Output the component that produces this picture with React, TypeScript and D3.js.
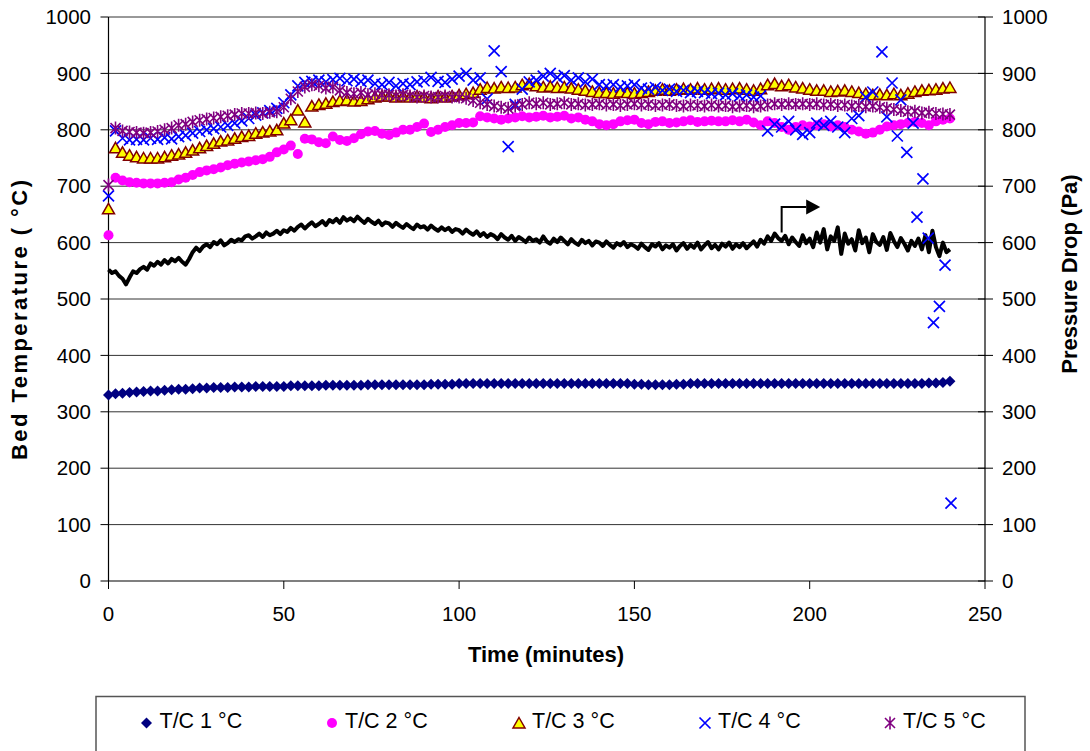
import React from 'react';
import * as d3 from 'd3';

// ---------- data ----------
// thermocouples logged on a 2-minute grid (0 .. 240 min)
const TC_TIME = d3.range(0, 241, 2);

const TC1 = [
  330, 332, 333, 334, 335, 336, 337, 337, 338, 339,
  340, 340, 341, 342, 342, 343, 343, 343, 344, 344,
  344, 345, 345, 345, 345, 345, 346, 346, 346, 346,
  346, 347, 347, 347, 347, 347, 347, 348, 348, 348,
  348, 348, 348, 348, 348, 348, 349, 349, 349, 349,
  350, 350, 350, 350, 350, 350, 350, 350, 350, 350,
  350, 350, 350, 350, 350, 350, 350, 350, 350, 350,
  350, 350, 350, 350, 350, 349, 349, 348, 348, 348,
  348, 349, 349, 350, 350, 350, 350, 350, 350, 350,
  350, 350, 350, 350, 350, 350, 350, 350, 350, 350,
  350, 350, 350, 350, 350, 350, 350, 350, 350, 350,
  350, 350, 350, 350, 350, 350, 350, 351, 351, 352,
  354,
];

const TC2 = [
  613, 715, 710, 707, 706, 705, 705, 705, 706, 707,
  712, 715, 720, 725, 728, 730, 733, 737, 740, 742,
  744, 746, 748, 752, 760, 765, 772, 757, 784, 783,
  778, 776, 788, 782, 780, 785, 792, 797, 798, 793,
  791, 795, 800, 800, 805, 811, 796, 800, 805, 808,
  812, 812, 813, 824, 822, 820, 818, 820, 822, 824,
  822, 823, 825, 822, 823, 825, 820, 822, 818, 815,
  810, 808, 810, 815, 817, 818, 812, 810, 814, 815,
  812, 813, 815, 817, 814, 815, 816, 815, 815, 817,
  815, 818, 813, 808, 815, 812, 805, 800, 805, 808,
  806, 808, 810, 806, 808, 805, 800, 797, 793, 795,
  800, 806, 808, 810, 812, 814, 812, 808, 815, 818,
  820,
];

const TC3 = [
  660, 768, 760, 755, 752, 750, 750, 750, 752, 755,
  757, 760, 764, 768, 772, 776, 780, 782, 785, 788,
  790, 794, 796, 798, 800, 812, 818, 835, 814, 842,
  845, 847, 850, 852, 853, 851, 852, 855, 858, 860,
  860, 858, 860, 858, 860, 858, 857, 860, 858, 860,
  862, 864, 866, 872, 875, 874, 876, 875, 876, 880,
  882, 878, 876, 877, 875, 876, 874, 872, 870, 868,
  866, 866, 865, 867, 866, 865, 866, 868, 870, 872,
  870, 872, 873, 872, 874, 872, 873, 874, 872, 873,
  874, 872, 870, 873, 880, 882, 878, 880, 876, 874,
  872, 870, 870, 868, 869, 870, 868, 866, 864, 862,
  863, 862, 864, 862, 865, 868, 870, 871, 872, 874,
  875,
];

// T/C 4 on the 2-minute grid up to 218 min, then its erratic tail
const TC4 = [
  683, 798, 785, 782, 783, 782, 785, 783, 786, 784,
  788, 790, 794, 797, 800, 802, 805, 808, 812, 816,
  820, 826, 830, 834, 838, 848, 862, 878, 884, 886,
  888, 885, 889, 891, 887, 890, 886, 888, 882, 880,
  884, 878, 882, 880, 885, 887, 893, 886, 884, 890,
  895, 900, 888, 892, 855, 940, 903, 770, 845, 872,
  885, 888, 895, 900, 893, 896, 888, 892, 885, 890,
  880, 878, 880, 876, 878, 880, 874, 872, 875, 870,
  872, 868, 870, 866, 868, 866, 864, 865, 862, 864,
  860, 862, 858, 860, 798, 810, 805, 815, 800, 792,
  795, 812, 808, 815, 805, 795, 820, 825, 858, 867,
];
const TC4_TAIL_TIME = [220.6, 222, 223.5, 225, 226, 227.7, 229.5, 230.6, 232.3, 233.8, 235.3, 237, 238.6, 240.3];
const TC4_TAIL = [938, 823, 883, 789, 853, 760, 812, 645, 713, 608, 458, 487, 560, 138];

const TC5 = [
  702, 803, 798, 796, 795, 794, 795, 797, 800, 803,
  808, 810, 814, 817, 819, 821, 823, 825, 827, 829,
  829, 830, 829, 831, 832, 840, 855, 868, 876, 880,
  878, 874, 876, 870, 866, 864, 866, 862, 864, 862,
  862, 860, 862, 860, 858, 860, 858, 858, 860, 858,
  858, 856, 852, 848, 845, 842, 840, 838, 842, 845,
  848, 846, 848, 845, 846, 848, 845, 846, 844, 845,
  846, 844, 845, 843, 845, 846, 844, 845, 843, 844,
  845, 843, 842, 844, 843, 842, 844, 842, 843, 841,
  842, 843, 841, 842, 844, 846, 845, 846, 845, 846,
  845, 846, 844, 845, 843, 844, 842, 843, 841, 842,
  840, 838, 836, 834, 832, 833, 830, 831, 829, 828,
  827,
];

// pressure drop logged every minute (secondary axis)
const P_TIME = d3.range(0, 241, 1);
const PRESSURE = [
  552, 546, 549, 541, 536, 526, 538, 549, 546, 553,
  557, 552, 563, 559, 566, 561, 569, 563, 571, 567,
  573, 566, 561, 571, 583, 591, 585, 593, 597, 592,
  601, 597, 604, 595, 599, 605, 601, 606, 604, 611,
  613, 607, 611, 616, 610, 618, 613, 616, 621, 615,
  622, 619, 626, 621, 628, 632, 625, 631, 636, 629,
  633, 638, 631, 640, 636, 642, 635, 645, 639, 643,
  638, 646, 640, 635, 642, 637, 633, 639, 631, 636,
  634, 628, 635, 630, 626, 633, 628, 624, 632, 627,
  629, 623, 630, 625, 621, 627, 622, 626, 619, 624,
  622, 616, 623, 618, 614, 620, 612, 617, 610, 615,
  612, 606, 615, 609, 605, 612, 603, 610, 606, 601,
  609, 603, 606, 600, 611, 602, 598, 607, 601, 609,
  603, 597, 606, 600, 596, 605, 599, 603, 595, 602,
  600, 594, 602, 596, 591, 599, 595, 601, 592, 597,
  594, 589, 598, 592, 587, 597, 593, 599, 588, 595,
  591, 597, 586, 594, 599, 589, 596, 591, 600, 588,
  595, 601, 590, 596, 588, 598, 593, 600, 589, 597,
  592, 599, 590, 596, 602, 593, 605, 598, 611, 603,
  616, 608, 603, 612, 597, 609, 601, 594, 613, 599,
  607, 592, 618, 600, 624, 588, 611, 603, 627, 580,
  616, 598, 606, 586, 622, 599, 609, 583, 615, 601,
  596, 610, 587, 617, 603, 592, 608, 598, 586, 603,
  594, 607, 588, 613, 583, 621, 592, 576, 600, 583,
  588,
];

// arrow pointing to the right (secondary) axis, in data units
const ARROW = { t: 192, fromP: 618, toP: 663, endT: 199, tipT: 203 };

const X_TICKS = [0, 50, 100, 150, 200, 250];
const Y_TICKS = [0, 100, 200, 300, 400, 500, 600, 700, 800, 900, 1000];

const LEGEND = ['T/C 1 °C', 'T/C 2 °C', 'T/C 3 °C', 'T/C 4 °C', 'T/C 5 °C'];

// ---------- drawing ----------
const W = 1090;
const H = 751;
const L = 108.5;
const R = 985;
const T = 17;
const B = 581;
const FONT = 'Liberation Sans, Arial, sans-serif';

const x = d3.scaleLinear().domain([0, 250]).range([L, R]);
const y = d3.scaleLinear().domain([0, 1000]).range([B, T]);
const y2 = d3.scaleLinear().domain([0, 1000]).range([B, T]);

const diamond = 'M0,-5.5L5.5,0L0,5.5L-5.5,0Z';
const triangle = 'M0,-5.5L6,5L-6,5Z';
const cross = 'M-5.5,-5.5L5.5,5.5M-5.5,5.5L5.5,-5.5';
const star = 'M-5,-5L5,5M-5,5L5,-5M0,-6.5L0,6.5';

function Marker({ kind, tx, ty }: { kind: number; tx: number; ty: number }) {
  const tr = `translate(${tx},${ty})`;
  if (kind === 0) return <path d={diamond} transform={tr} fill="#000080" />;
  if (kind === 1) return <circle cx={tx} cy={ty} r={5} fill="#FF00FF" />;
  if (kind === 2)
    return <path d={triangle} transform={tr} fill="#FFFF00" stroke="#800000" strokeWidth={1.5} strokeLinejoin="miter" />;
  if (kind === 3) return <path d={cross} transform={tr} fill="none" stroke="#0000FF" strokeWidth={1.7} />;
  return <path d={star} transform={tr} fill="none" stroke="#800080" strokeWidth={1.6} />;
}

export default function App() {
  const pressureLine = d3
    .line<number>()
    .x((_, i) => x(P_TIME[i]))
    .y((d) => y2(d))(PRESSURE) as string;

  const series: { kind: number; pts: [number, number][] }[] = [
    { kind: 0, pts: TC1.map((v, i) => [TC_TIME[i], v]) },
    { kind: 1, pts: TC2.map((v, i) => [TC_TIME[i], v]) },
    { kind: 2, pts: TC3.map((v, i) => [TC_TIME[i], v]) },
    {
      kind: 3,
      pts: [
        ...TC4.map((v, i) => [TC_TIME[i], v] as [number, number]),
        ...TC4_TAIL.map((v, i) => [TC4_TAIL_TIME[i], v] as [number, number]),
      ],
    },
    { kind: 4, pts: TC5.map((v, i) => [TC_TIME[i], v]) },
  ];

  const legendX = [146.5, 332, 519, 705, 890];

  return (
    <svg
      width={W}
      height={H}
      style={{ position: 'absolute', left: 0, top: 0, background: '#fff' }}
      fontFamily={FONT}
    >
      <rect x={0} y={0} width={W} height={H} fill="#fff" />
      {/* gridlines */}
      {Y_TICKS.filter((v) => v > 0).map((v) => (
        <line key={'g' + v} x1={L} x2={R} y1={y(v)} y2={y(v)} stroke="#000" strokeWidth={1} opacity={0.8} />
      ))}
      {/* left axis */}
      <line x1={L} x2={L} y1={T} y2={B} stroke="#000" strokeWidth={1.2} />
      {Y_TICKS.map((v) => (
        <g key={'ly' + v}>
          <line x1={L - 8} x2={L} y1={y(v)} y2={y(v)} stroke="#000" />
          <text x={91} y={y(v)} dy="0.35em" textAnchor="end" fontSize={20.5} fill="#000">
            {v}
          </text>
        </g>
      ))}
      {/* right axis */}
      <line x1={R} x2={R} y1={T} y2={B} stroke="#000" strokeWidth={1.2} />
      {Y_TICKS.map((v) => (
        <g key={'ry' + v}>
          <line x1={R - 7} x2={R + 8} y1={y2(v)} y2={y2(v)} stroke="#000" />
          <text x={1002} y={y2(v)} dy="0.35em" textAnchor="start" fontSize={20.5} fill="#000">
            {v}
          </text>
        </g>
      ))}
      {/* bottom axis */}
      <line x1={L} x2={R} y1={B} y2={B} stroke="#000" strokeWidth={1.2} />
      {X_TICKS.map((v) => (
        <g key={'x' + v}>
          <line x1={x(v)} x2={x(v)} y1={B} y2={B + 8} stroke="#000" />
          <text x={x(v)} y={621} textAnchor="middle" fontSize={20.5} fill="#000">
            {v}
          </text>
        </g>
      ))}

      {/* pressure drop line */}
      <path d={pressureLine} fill="none" stroke="#000" strokeWidth={4} strokeLinejoin="round" />

      {/* thermocouple markers */}
      {series.map((s) => (
        <g key={'s' + s.kind}>
          {s.pts.map(([t, v], i) => (
            <Marker key={i} kind={s.kind} tx={x(t)} ty={y(v)} />
          ))}
        </g>
      ))}

      {/* arrow toward secondary axis */}
      <path
        d={`M${x(ARROW.t)},${y2(ARROW.fromP)}L${x(ARROW.t)},${y2(ARROW.toP)}L${x(ARROW.endT)},${y2(ARROW.toP)}`}
        fill="none"
        stroke="#000"
        strokeWidth={2}
      />
      <path
        d={`M${x(ARROW.endT)},${y2(ARROW.toP) - 7.5}L${x(ARROW.tipT)},${y2(ARROW.toP)}L${x(ARROW.endT)},${y2(ARROW.toP) + 7.5}Z`}
        fill="#000"
      />

      {/* axis titles */}
      <text x={546} y={662} textAnchor="middle" fontSize={22} fontWeight="bold">
        Time (minutes)
      </text>
      <text
        transform="translate(27,320) rotate(-90)"
        textAnchor="middle"
        fontSize={22}
        fontWeight="bold"
        textLength={280}
        lengthAdjust="spacing"
      >
        Bed Temperature ( °C)
      </text>
      <text
        transform="translate(1077,274) rotate(-90)"
        textAnchor="middle"
        fontSize={22}
        fontWeight="bold"
      >
        Pressure Drop (Pa)
      </text>

      {/* legend */}
      <rect x={96} y={696.5} width={929} height={70} fill="#fff" stroke="#555" strokeWidth={1.5} />
      {LEGEND.map((label, i) => (
        <g key={label}>
          <Marker kind={i} tx={legendX[i]} ty={723} />
          <text x={legendX[i] + 13} y={728} fontSize={21.5} fill="#000">
            {label}
          </text>
        </g>
      ))}
    </svg>
  );
}
